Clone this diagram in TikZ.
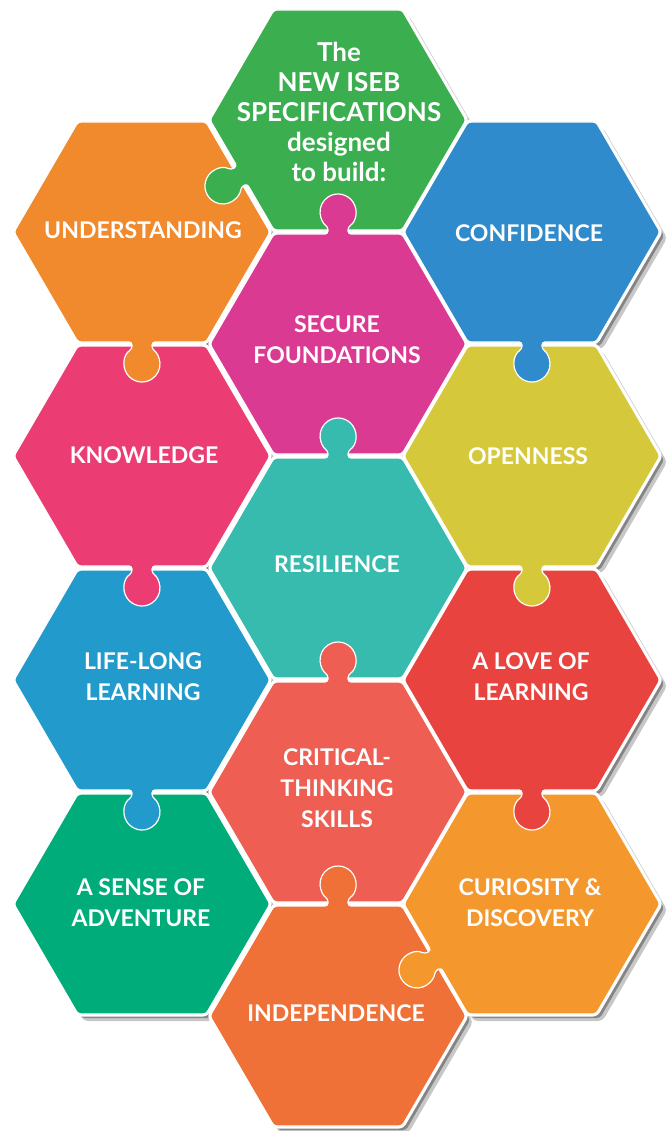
\documentclass[tikz,border=0pt]{standalone}
\usepackage{fontspec}
\setmainfont{Lato}
\definecolor{cGreen}{HTML}{3BAF50}
\definecolor{cUnder}{HTML}{F08A2C}
\definecolor{cConf}{HTML}{2F8BCB}
\definecolor{cSecure}{HTML}{DB3A93}
\definecolor{cKnow}{HTML}{EB3D74}
\definecolor{cOpen}{HTML}{D5C93B}
\definecolor{cResil}{HTML}{37BBAE}
\definecolor{cLife}{HTML}{239ACC}
\definecolor{cLove}{HTML}{E8433F}
\definecolor{cCrit}{HTML}{EE5E52}
\definecolor{cSense}{HTML}{00AD7A}
\definecolor{cCurio}{HTML}{F4982D}
\definecolor{cIndep}{HTML}{EF7137}
% hexagon outlines in local coordinates (1 unit = 1pt), with a puzzle knob
\def\hexN{(128,0) -- (64,110) -- (-64,110) -- (-128,0) -- (-64,-110) -- (64,-110) -- cycle}
\def\hexT{(128,0) -- (64,110) -- (10,110) -- (10,117.03) arc[start angle=-56.3,end angle=236.3,radius=18] -- (-10,110) -- (-64,110) -- (-128,0) -- (-64,-110) -- (64,-110) -- cycle}
\def\hexB{(128,0) -- (64,110) -- (-64,110) -- (-128,0) -- (-64,-110) -- (-10,-110) -- (-10,-117.03) arc[start angle=123.7,end angle=416.3,radius=18] -- (10,-110) -- (64,-110) -- cycle}
\def\hexL{(128,0) -- (64,110) -- (-64,110) -- (-128,0) -- ([shift={(-96,-55)},rotate=-60]-10,0) -- ([shift={(-96,-55)},rotate=-60]-10,-7.03) arc[start angle=63.7,end angle=356.3,radius=18] -- ([shift={(-96,-55)},rotate=-60]10,0) -- (-64,-110) -- (64,-110) -- cycle}
\tikzset{
  tilefill/.style={fill=#1, draw=white, line width=1.2pt, rounded corners=3pt, line join=round},
  underlay/.style={fill=white, draw=white, line width=5pt, rounded corners=3pt, line join=round},
  shadeout/.style={fill=black!22, draw=black!22, line width=2pt, rounded corners=4pt},
  shadein/.style={fill=black!48, rounded corners=3pt},
  lbl/.style={text=white, font=\bfseries\fontsize{23}{31}\selectfont, align=center, inner sep=0pt},
  title/.style={text=white, font=\bfseries\fontsize{26}{30}\selectfont, align=center, inner sep=0pt}
}
\def\tilelist{sense/142/904/cSense/N, lifelong/142/680/cLife/B, knowledge/142/456/cKnow/B, understanding/142/232/cUnder/B, green/338/120/cGreen/L, secure/338/344/cSecure/T, resilience/338/568/cResil/T, critical/338/792/cCrit/T, independence/338/1016/cIndep/T, curiosity/532/904/cCurio/L, love/532/680/cLove/B, openness/532/456/cOpen/B, confidence/532/232/cConf/B}
\begin{document}
\begin{tikzpicture}[x=1pt,y=1pt]
\useasboundingbox (0,0) rectangle (670,-1131);
% shadows
\foreach \n/\x/\y/\c/\k in \tilelist {
  \expandafter\let\expandafter\shp\csname hex\k\endcsname
  \begin{scope}[shift={(\x+6,-\y-6)}]
    \fill[shadeout] \shp;
  \end{scope}
  \begin{scope}[shift={(\x+4,-\y-4)}]
    \fill[shadein] \shp;
  \end{scope}
}
% white joints
\foreach \n/\x/\y/\c/\k in \tilelist {
  \expandafter\let\expandafter\shp\csname hex\k\endcsname
  \begin{scope}[shift={(\x,-\y)}]
    \filldraw[underlay] \shp;
  \end{scope}
}
% coloured tiles
\foreach \n/\x/\y/\c/\k in \tilelist {
  \expandafter\let\expandafter\shp\csname hex\k\endcsname
  \begin{scope}[shift={(\x,-\y)}]
    \filldraw[tilefill=\c] \shp;
  \end{scope}
}
% labels
\node[title] (tGreen) at (339,-112) {The\\NEW ISEB\\SPECIFICATIONS\\designed\\to build:};
\node[lbl] (tUnder) at (143,-230) {UNDERSTANDING};
\node[lbl] (tConf) at (529,-233) {CONFIDENCE};
\node[lbl] (tSecure) at (337,-340) {SECURE\\FOUNDATIONS};
\node[lbl] (tKnow) at (144,-455) {KNOWLEDGE};
\node[lbl] (tOpen) at (528,-456) {OPENNESS};
\node[lbl] (tResil) at (337,-564) {RESILIENCE};
\node[lbl] (tLife) at (143,-677) {LIFE-LONG\\LEARNING};
\node[lbl] (tLove) at (531,-677) {A LOVE OF\\LEARNING};
\node[lbl] (tCrit) at (337,-788) {CRITICAL-\\THINKING\\SKILLS};
\node[lbl] (tSense) at (141,-903) {A SENSE OF\\ADVENTURE};
\node[lbl] (tCurio) at (530,-903) {CURIOSITY \&\\DISCOVERY};
\node[lbl] (tIndep) at (336,-1013) {INDEPENDENCE};
\end{tikzpicture}
\end{document}
